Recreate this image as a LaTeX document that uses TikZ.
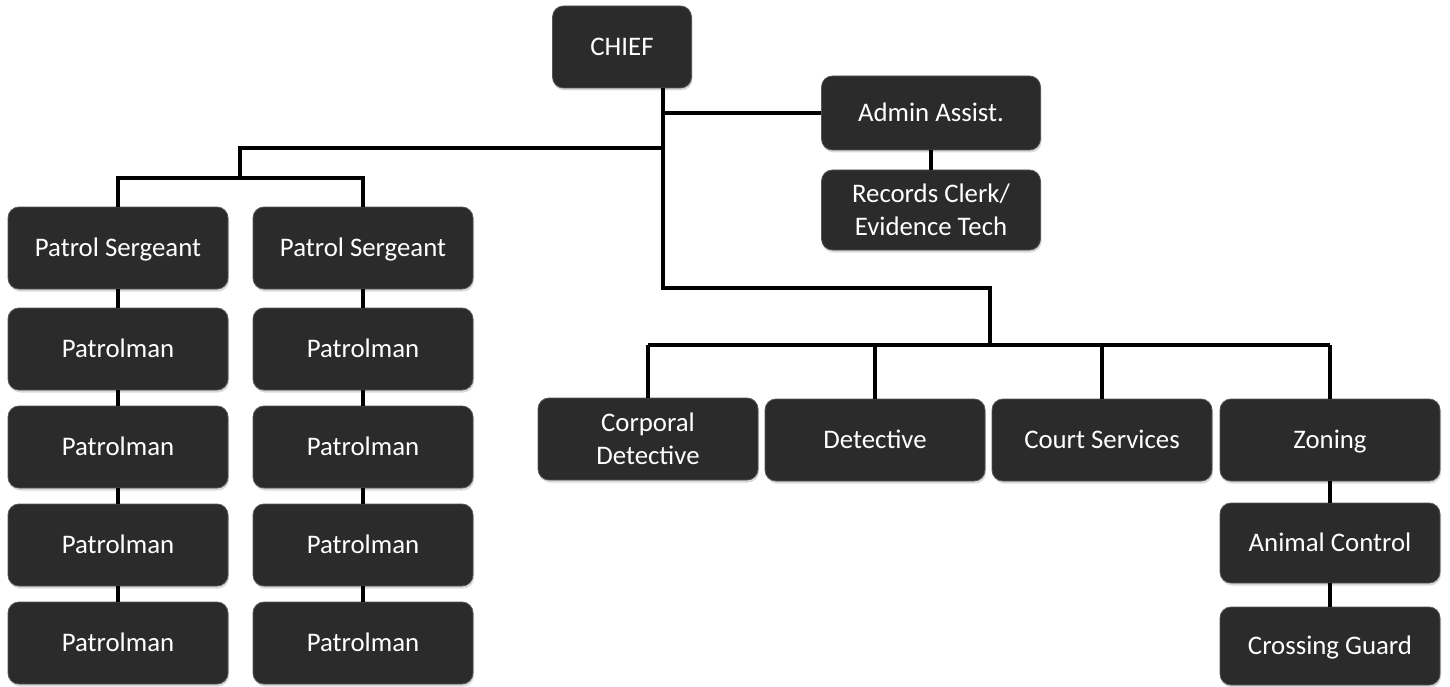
\documentclass[tikz,border=0pt]{standalone}
\usepackage{fontspec}
\setmainfont{Carlito}
\usetikzlibrary{shadows}
\definecolor{boxgray}{HTML}{2B2B2B}
\definecolor{rimgray}{HTML}{555555}

\begin{document}
\begin{tikzpicture}[x=1pt,y=-1pt,
    box/.style={draw=rimgray, line width=0.8pt, fill=boxgray, rounded corners=11pt,
      minimum width=220pt, minimum height=82pt, inner sep=2pt, align=center,
      text=white, font=\fontsize{26.8}{33}\selectfont,
      text height=21pt, text depth=4pt,
      drop shadow={shadow xshift=1pt, shadow yshift=-2.5pt, opacity=0.3}},
    twoline/.style={text height=, text depth=},
    link/.style={line width=4pt, black}]
  \useasboundingbox (0,0) rectangle (1450,687);

  \node (chief) [box, minimum width=139pt] at (622,47) {CHIEF};
  \node (admin) [box, minimum width=219pt, minimum height=74pt] at (931,113) {Admin Assist.};
  \node (rec) [box, twoline, minimum width=219pt, minimum height=80pt] at (931,210) {Records Clerk/\\Evidence Tech};

  \node (sgtA) [box] at (118,248) {Patrol Sergeant};
  \node (sgtB) [box] at (363,248) {Patrol Sergeant};
  \foreach \i/\y in {1/349,2/447,3/545,4/643} {
    \node (pa\i) [box] at (118,\y) {Patrolman};
    \node (pb\i) [box] at (363,\y) {Patrolman};
  }

  \node (corp) [box, twoline] at (648,439) {Corporal\\Detective};
  \node (det) [box] at (875,440) {Detective};
  \node (court) [box] at (1102,440) {Court Services};
  \node (zon) [box] at (1330,440) {Zoning};
  \node (anim) [box, minimum height=80pt] at (1330,543) {Animal Control};
  \node (cross) [box, minimum height=78pt] at (1330,646) {Crossing Guard};

  \coordinate (j1) at (663,288);
  \coordinate (j2) at (990,288);
  \coordinate (bus) at (0,345);
  \coordinate (j3) at (663,148);
  \coordinate (j4) at (240,148);
  \coordinate (j5) at (240,178);

  % trunk and branches
  \draw [link] (chief.south -| j1) -- (j1) -- (j2) -- (j2 |- bus);
  \draw [link] (j1 |- admin.west) -- (admin.west);
  \draw [link] (admin) -- (rec);
  \draw [link] (j3) -- (j4) -- (j5);
  \draw [link] (sgtA.north) |- (sgtB.north |- j5) -- (sgtB.north);
  \draw [link] (corp.north |- bus) -- (zon.north |- bus);
  \foreach \n in {corp,det,court,zon}
    \draw [link] (\n.north |- bus) -- (\n.north);

  % chains
  \draw [link] (sgtA) -- (pa1) (pa1) -- (pa2) (pa2) -- (pa3) (pa3) -- (pa4);
  \draw [link] (sgtB) -- (pb1) (pb1) -- (pb2) (pb2) -- (pb3) (pb3) -- (pb4);
  \draw [link] (zon) -- (anim) (anim) -- (cross);
\end{tikzpicture}
\end{document}
